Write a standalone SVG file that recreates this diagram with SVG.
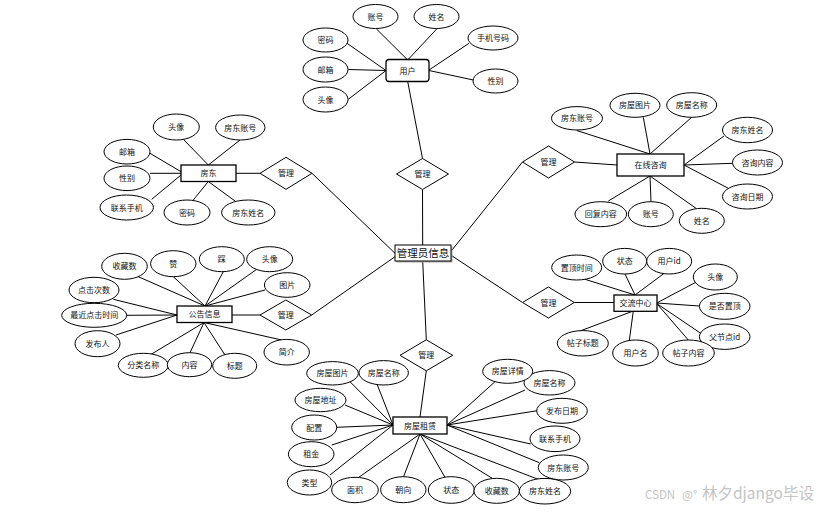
<svg xmlns="http://www.w3.org/2000/svg" width="836" height="512" viewBox="0 0 836 512">
<style>
  .a ellipse{fill:#fff;stroke:#000;stroke-width:1}
  .r{fill:#fff;stroke:#000;stroke-width:1.3}
  .d{fill:#fff;stroke:#000;stroke-width:1}
  text{font-family:"Noto Sans CJK SC","Liberation Sans",sans-serif;font-size:8px;fill:#111;text-anchor:middle}
  .big{font-size:10.5px}
  #connectors line{stroke:#000;stroke-width:1}
  .wm{fill:#c4c4c4;text-anchor:start}
</style>
<rect width="836" height="512" fill="#fff"/>
<g id="connectors">
  <!-- user -->
  <line x1="376.5" y1="29" x2="407.7" y2="60"/>
  <line x1="436.7" y1="29" x2="407.7" y2="60"/>
  <line x1="469" y1="43.3" x2="429" y2="70"/>
  <line x1="347" y1="43.3" x2="386" y2="70.5"/>
  <line x1="348.3" y1="69.5" x2="386" y2="70.5"/>
  <line x1="348.3" y1="99.3" x2="386" y2="70.5"/>
  <line x1="473.3" y1="80" x2="429" y2="70.5"/>
  <line x1="407.7" y1="81.5" x2="422.5" y2="158.5"/>
  <line x1="422.5" y1="189.5" x2="422.7" y2="245"/>
  <!-- landlord -->
  <line x1="183.3" y1="139.3" x2="208.3" y2="165"/>
  <line x1="240" y1="140" x2="208.3" y2="165"/>
  <line x1="150" y1="153.3" x2="181" y2="171.7"/>
  <line x1="150" y1="173.3" x2="181" y2="173.3"/>
  <line x1="151.7" y1="199.3" x2="181" y2="175"/>
  <line x1="193.3" y1="200" x2="208.3" y2="181.5"/>
  <line x1="235" y1="201" x2="208.3" y2="181.5"/>
  <line x1="236" y1="173.3" x2="260" y2="173.3"/>
  <line x1="312" y1="173.3" x2="395" y2="253.3"/>
  <!-- consult -->
  <line x1="576.7" y1="130.5" x2="650" y2="154"/>
  <line x1="643.3" y1="117.3" x2="650" y2="154"/>
  <line x1="691.7" y1="117.3" x2="650" y2="154"/>
  <line x1="724" y1="136" x2="684" y2="165"/>
  <line x1="732.7" y1="163.3" x2="684" y2="165"/>
  <line x1="728.3" y1="188.3" x2="684" y2="165"/>
  <line x1="608.3" y1="201" x2="650" y2="176"/>
  <line x1="651" y1="201.7" x2="650" y2="176"/>
  <line x1="696" y1="208.3" x2="650" y2="176"/>
  <line x1="574.5" y1="162" x2="617" y2="165"/>
  <line x1="450.7" y1="251.7" x2="522.5" y2="162"/>
  <!-- notice -->
  <line x1="136.7" y1="276" x2="205" y2="306"/>
  <line x1="173.3" y1="276.7" x2="205" y2="306"/>
  <line x1="223.3" y1="271.7" x2="205" y2="306"/>
  <line x1="256.7" y1="269.3" x2="205" y2="306"/>
  <line x1="265" y1="290" x2="205" y2="306"/>
  <line x1="113.3" y1="299.3" x2="177" y2="315"/>
  <line x1="126.7" y1="315.3" x2="177" y2="315"/>
  <line x1="116" y1="335" x2="177" y2="315"/>
  <line x1="150" y1="355" x2="204" y2="322.5"/>
  <line x1="190" y1="352.7" x2="204" y2="322.5"/>
  <line x1="225" y1="355" x2="204" y2="322.5"/>
  <line x1="281.7" y1="340" x2="204" y2="322.5"/>
  <line x1="231.7" y1="315" x2="260" y2="315"/>
  <line x1="311.7" y1="315" x2="395" y2="256.7"/>
  <!-- exchange -->
  <line x1="585" y1="279.3" x2="635" y2="295"/>
  <line x1="625" y1="274" x2="635" y2="295"/>
  <line x1="665" y1="272.7" x2="635" y2="295"/>
  <line x1="695" y1="282.7" x2="656.7" y2="303"/>
  <line x1="699.3" y1="306" x2="656.7" y2="303"/>
  <line x1="703.3" y1="335" x2="656.7" y2="303.5"/>
  <line x1="688.3" y1="340" x2="656.7" y2="303.5"/>
  <line x1="580" y1="331" x2="633.3" y2="311"/>
  <line x1="629.3" y1="340.5" x2="633.3" y2="311"/>
  <line x1="574.3" y1="302.5" x2="614" y2="302.5"/>
  <line x1="450.7" y1="255" x2="522.5" y2="302.5"/>
  <!-- house -->
  <line x1="422.7" y1="261" x2="426.3" y2="339.8"/>
  <line x1="426.3" y1="370.8" x2="420" y2="417"/>
  <line x1="348.3" y1="380" x2="393" y2="425"/>
  <line x1="376.7" y1="383.3" x2="393" y2="425"/>
  <line x1="345" y1="405" x2="393" y2="425"/>
  <line x1="336.7" y1="427.3" x2="393" y2="425"/>
  <line x1="331.7" y1="445" x2="393" y2="425"/>
  <line x1="330" y1="475" x2="393" y2="425"/>
  <line x1="355" y1="480" x2="420" y2="434"/>
  <line x1="403.3" y1="477.3" x2="420" y2="434"/>
  <line x1="445" y1="477.3" x2="420" y2="434"/>
  <line x1="496.7" y1="481" x2="420" y2="434"/>
  <line x1="540" y1="480" x2="420" y2="434"/>
  <line x1="495" y1="381.7" x2="447" y2="425"/>
  <line x1="525" y1="390" x2="447" y2="425"/>
  <line x1="537.3" y1="410.7" x2="447" y2="425"/>
  <line x1="530.7" y1="444" x2="447" y2="425"/>
  <line x1="539.3" y1="462.7" x2="447" y2="425"/>
</g>

<!-- center -->
<g id="admin">
  <rect x="396.5" y="246.5" width="56" height="16" fill="#aaa"/>
  <rect x="395" y="245" width="56" height="16" fill="#fff" stroke="#000" stroke-width="1"/>
  <text class="big" x="423" y="256.8">管理员信息</text>
</g>

<!-- user -->
<g id="user">
  <rect class="r" x="386" y="59.5" width="43" height="22" rx="3"/>
  <text x="407.5" y="73.5">用户</text>
</g>
<g id="user-attrs" class="a">
  <ellipse cx="375.5" cy="16.5" rx="22.5" ry="12"/><text x="375.5" y="19.5">账号</text>
  <ellipse cx="436.5" cy="16.5" rx="22.5" ry="12"/><text x="436.5" y="19.5">姓名</text>
  <ellipse cx="493" cy="38" rx="25" ry="12"/><text x="493" y="41">手机号码</text>
  <ellipse cx="325.5" cy="40" rx="22.5" ry="12"/><text x="325.5" y="43">密码</text>
  <ellipse cx="325.5" cy="69.5" rx="22.5" ry="12.5"/><text x="325.5" y="72.5">邮箱</text>
  <ellipse cx="325.5" cy="99.5" rx="22.5" ry="12.5"/><text x="325.5" y="102.5">头像</text>
  <ellipse cx="495.5" cy="81" rx="22.5" ry="12"/><text x="495.5" y="84">性别</text>
</g>
<g id="rel-user">
  <polygon class="d" points="422.5,158.5 448.5,174 422.5,189.5 396.5,174"/>
  <text x="422.5" y="177">管理</text>
</g>

<!-- landlord -->
<g id="landlord">
  <rect class="r" x="181" y="165" width="55" height="16.5"/>
  <text x="208.5" y="176.3">房东</text>
</g>
<g id="landlord-attrs" class="a">
  <ellipse cx="176.3" cy="127" rx="23" ry="13"/><text x="176.3" y="130">头像</text>
  <ellipse cx="240.3" cy="127.5" rx="24.7" ry="12.5"/><text x="240.3" y="130.5">房东账号</text>
  <ellipse cx="127" cy="151.7" rx="23" ry="12.3"/><text x="127" y="154.7">邮箱</text>
  <ellipse cx="127" cy="178.3" rx="23" ry="12.3"/><text x="127" y="181.3">性别</text>
  <ellipse cx="126.7" cy="207.5" rx="26.7" ry="12.5"/><text x="126.7" y="210.5">联系手机</text>
  <ellipse cx="187" cy="212.5" rx="23" ry="12.5"/><text x="187" y="215.5">密码</text>
  <ellipse cx="248.3" cy="212.5" rx="26.7" ry="12.5"/><text x="248.3" y="215.5">房东姓名</text>
</g>
<g id="rel-landlord">
  <polygon class="d" points="286,157.3 312,173.3 286,189.3 260,173.3"/>
  <text x="286" y="176.3">管理</text>
</g>

<!-- consult -->
<g id="consult">
  <rect class="r" x="617" y="154" width="67" height="22"/>
  <text x="650.5" y="168">在线咨询</text>
</g>
<g id="consult-attrs" class="a">
  <ellipse cx="577" cy="118.3" rx="25.5" ry="11.7"/><text x="577" y="121.3">房东账号</text>
  <ellipse cx="635" cy="105.3" rx="25" ry="12"/><text x="635" y="108.3">房屋图片</text>
  <ellipse cx="691.7" cy="105" rx="25" ry="12.3"/><text x="691.7" y="108">房屋名称</text>
  <ellipse cx="747.5" cy="130" rx="25" ry="12.7"/><text x="747.5" y="133">房东姓名</text>
  <ellipse cx="757.5" cy="162.5" rx="25" ry="12.5"/><text x="757.5" y="165.5">咨询内容</text>
  <ellipse cx="747.5" cy="196.5" rx="25" ry="12.5"/><text x="747.5" y="199.5">咨询日期</text>
  <ellipse cx="600.8" cy="214.2" rx="25.8" ry="12.5"/><text x="600.8" y="217.2">回复内容</text>
  <ellipse cx="650.8" cy="214.2" rx="22.5" ry="12.5"/><text x="650.8" y="217.2">账号</text>
  <ellipse cx="701.8" cy="220.8" rx="22.5" ry="12.5"/><text x="701.8" y="223.8">姓名</text>
</g>
<g id="rel-consult">
  <polygon class="d" points="548.5,146 574.5,162 548.5,178 522.5,162"/>
  <text x="548.5" y="165">管理</text>
</g>

<!-- notice -->
<g id="notice">
  <rect class="r" x="177" y="306" width="55" height="16.5"/>
  <text x="204.5" y="317.3">公告信息</text>
</g>
<g id="notice-attrs" class="a">
  <ellipse cx="124.5" cy="266.3" rx="22.8" ry="13"/><text x="124.5" y="269.3">收藏数</text>
  <ellipse cx="173.3" cy="263.7" rx="22.7" ry="13"/><text x="173.3" y="266.7">赞</text>
  <ellipse cx="221.8" cy="259.2" rx="22.5" ry="12.5"/><text x="221.8" y="262.2">踩</text>
  <ellipse cx="269.7" cy="259.2" rx="23" ry="12.5"/><text x="269.7" y="262.2">头像</text>
  <ellipse cx="287.2" cy="285" rx="22.8" ry="12.3"/><text x="287.2" y="288">图片</text>
  <ellipse cx="94" cy="290" rx="25" ry="12.7"/><text x="94" y="293">点击次数</text>
  <ellipse cx="94.2" cy="315.3" rx="32.5" ry="12"/><text x="94.2" y="318.3">最近点击时间</text>
  <ellipse cx="97.5" cy="343.7" rx="22.5" ry="13"/><text x="97.5" y="346.7">发布人</text>
  <ellipse cx="143.3" cy="365.3" rx="25" ry="12"/><text x="143.3" y="368.3">分类名称</text>
  <ellipse cx="189.5" cy="364.7" rx="22.2" ry="12"/><text x="189.5" y="367.7">内容</text>
  <ellipse cx="234.7" cy="365.8" rx="22" ry="12.5"/><text x="234.7" y="368.8">标题</text>
  <ellipse cx="286.7" cy="352.2" rx="22.7" ry="12.8"/><text x="286.7" y="355.2">简介</text>
</g>
<g id="rel-notice">
  <polygon class="d" points="285.8,300 311.7,315 285.8,330 260,315"/>
  <text x="285.8" y="318">管理</text>
</g>

<!-- exchange -->
<g id="exchange">
  <rect class="r" x="614" y="295" width="43" height="16.3"/>
  <text x="635.5" y="306">交流中心</text>
</g>
<g id="exchange-attrs" class="a">
  <ellipse cx="576.7" cy="267.5" rx="25" ry="12.5"/><text x="576.7" y="270.5">置顶时间</text>
  <ellipse cx="624.7" cy="261.2" rx="22" ry="12.8"/><text x="624.7" y="264.2">状态</text>
  <ellipse cx="669.2" cy="261.2" rx="22.5" ry="12.8"/><text x="669.2" y="264.2">用户id</text>
  <ellipse cx="715.3" cy="277" rx="22" ry="13"/><text x="715.3" y="280">头像</text>
  <ellipse cx="724.7" cy="306.3" rx="25.3" ry="13"/><text x="724.7" y="309.3">是否置顶</text>
  <ellipse cx="724.7" cy="336.7" rx="25.3" ry="12.7"/><text x="724.7" y="339.7">父节点id</text>
  <ellipse cx="582.8" cy="343.3" rx="25.5" ry="12.7"/><text x="582.8" y="346.3">帖子标题</text>
  <ellipse cx="635.5" cy="353" rx="22.8" ry="13"/><text x="635.5" y="356">用户名</text>
  <ellipse cx="688.5" cy="353" rx="25.8" ry="13"/><text x="688.5" y="356">帖子内容</text>
</g>
<g id="rel-exchange">
  <polygon class="d" points="548.4,287 574.3,302.5 548.4,318 522.5,302.5"/>
  <text x="548.4" y="305.5">管理</text>
</g>

<!-- house -->
<g id="house">
  <rect class="r" x="393" y="417" width="54" height="17"/>
  <text x="420" y="428.5">房屋租赁</text>
</g>
<g id="house-attrs" class="a">
  <ellipse cx="332.5" cy="373.3" rx="25.8" ry="11.7"/><text x="332.5" y="376.3">房屋图片</text>
  <ellipse cx="383.7" cy="372.8" rx="24.7" ry="12.2"/><text x="383.7" y="375.8">房屋名称</text>
  <ellipse cx="320.5" cy="400" rx="25.5" ry="11.7"/><text x="320.5" y="403">房屋地址</text>
  <ellipse cx="314.2" cy="427.5" rx="22.5" ry="12.5"/><text x="314.2" y="430.5">配置</text>
  <ellipse cx="311.2" cy="454.2" rx="22.8" ry="12.5"/><text x="311.2" y="457.2">租金</text>
  <ellipse cx="309.5" cy="482.5" rx="22.2" ry="12.5"/><text x="309.5" y="485.5">类型</text>
  <ellipse cx="355" cy="490" rx="23.3" ry="12.7"/><text x="355" y="493">面积</text>
  <ellipse cx="403.3" cy="489.7" rx="22.7" ry="13"/><text x="403.3" y="492.7">朝向</text>
  <ellipse cx="451.3" cy="490" rx="23" ry="13.3"/><text x="451.3" y="493">状态</text>
  <ellipse cx="496.7" cy="490.8" rx="22.7" ry="12.5"/><text x="496.7" y="493.8">收藏数</text>
  <ellipse cx="545" cy="491.2" rx="25.7" ry="12.8"/><text x="545" y="494.2">房东姓名</text>
  <ellipse cx="563.3" cy="467.5" rx="25" ry="12.5"/><text x="563.3" y="470.5">房东账号</text>
  <ellipse cx="555" cy="438.8" rx="25" ry="12.8"/><text x="555" y="441.8">联系手机</text>
  <ellipse cx="562" cy="410.8" rx="25.3" ry="12.5"/><text x="562" y="413.8">发布日期</text>
  <ellipse cx="549.5" cy="382.8" rx="25.5" ry="12.2"/><text x="549.5" y="385.8">房屋名称</text>
  <ellipse cx="507.7" cy="371.3" rx="25" ry="12"/><text x="507.7" y="374.3">房屋详情</text>
</g>
<g id="rel-house">
  <polygon class="d" points="426.3,339.8 452.7,355.3 426.3,370.8 400,355.3"/>
  <text x="426.3" y="358.3">管理</text>
</g>

<text class="wm" x="645" y="499"><tspan font-size="11.5">CSDN</tspan><tspan x="682" font-size="11.5">@°</tspan><tspan x="702" font-size="15.5">林夕django毕设</tspan></text>
</svg>
